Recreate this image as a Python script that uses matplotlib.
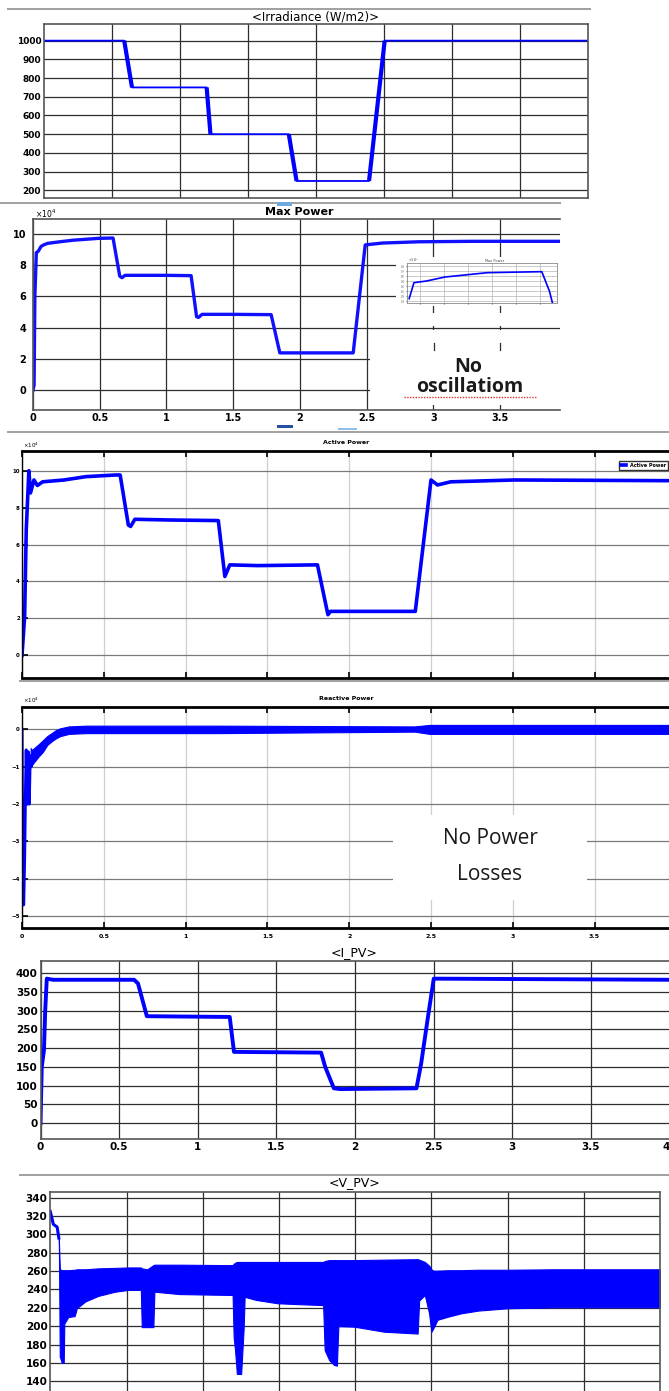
import numpy as np
import matplotlib
matplotlib.use('Agg')
import matplotlib.pyplot as plt
from matplotlib.patches import Rectangle
from matplotlib.lines import Line2D

W, H = 669, 1391
BLUE = '#0000ff'

# irradiance profile (W/m2)
t_irr = [0, 0.59, 0.647, 1.196, 1.224, 1.80, 1.857, 2.39, 2.505, 4.0]
g_irr = [1000, 1000, 750, 750, 500, 500, 250, 250, 1000, 1000]

# max power (x1e4)
t_pmax = [0, 0.008, 0.014, 0.025, 0.04, 0.06, 0.08, 0.11, 0.2, 0.3, 0.49, 0.6, 0.65, 0.667,
          0.69, 1.0, 1.185, 1.226, 1.24, 1.267, 1.5, 1.785, 1.85, 2.1, 2.4, 2.49, 2.62,
          2.89, 3.3, 3.95]
p_max = [0, 0.3, 6.0, 8.8, 8.9, 9.2, 9.3, 9.4, 9.5, 9.6, 9.72, 9.74, 7.3, 7.2,
         7.35, 7.35, 7.33, 4.7, 4.65, 4.85, 4.85, 4.83, 2.38, 2.38, 2.38, 9.3, 9.42,
         9.5, 9.53, 9.53]

# inset (zoom of max power start)
t_ins = [0, 0.022, 0.08, 0.165, 0.36, 0.61, 0.645, 0.66]
p_ins = [8.83, 9.31, 9.36, 9.48, 9.61, 9.64, 9.06, 8.68]

# active power (x1e4)
t_act = [0, 0.016, 0.026, 0.042, 0.052, 0.073, 0.094, 0.126, 0.257, 0.39, 0.572, 0.6,
         0.65, 0.664, 0.69, 0.913, 1.2, 1.24, 1.27, 1.44, 1.806, 1.87, 1.885, 2.12,
         2.404, 2.5, 2.54, 2.62, 3.01, 4.0]
p_act = [0, 2.1, 6.8, 10.0, 8.8, 9.5, 9.2, 9.4, 9.5, 9.68, 9.77, 9.77,
         7.06, 6.98, 7.37, 7.33, 7.3, 4.27, 4.9, 4.86, 4.9, 2.2, 2.38, 2.38,
         2.38, 9.5, 9.23, 9.4, 9.5, 9.46]

# reactive power (x1e4): start transient and steady band
t_q0 = [0, 0.005, 0.01, 0.016, 0.02, 0.026, 0.032, 0.038, 0.044, 0.05, 0.056, 0.061]
q0 = [0, -4.7, -4.7, -3.4, -2.0, -0.55, -2.0, -0.6, -2.0, -0.7, -1.0, -0.8]
t_qb = [0.053, 0.061, 0.101, 0.128, 0.154, 0.181, 0.207, 0.234, 0.287, 0.394, 1.2, 2.4, 2.49, 4.0]
q_hi = [-0.5, -0.55, -0.4, -0.29, -0.18, -0.1, -0.02, 0.03, 0.08, 0.1, 0.1, 0.08, 0.12, 0.12]
q_lo = [-1.0, -0.95, -0.73, -0.6, -0.42, -0.32, -0.24, -0.18, -0.12, -0.1, -0.1, -0.06, -0.12, -0.12]

# PV current (A)
t_ipv = [0, 0.008, 0.022, 0.03, 0.04, 0.081, 0.595, 0.62, 0.676, 1.203, 1.23, 1.784,
         1.81, 1.865, 1.905, 2.39, 2.42, 2.46, 2.5, 4.0]
i_pv = [0, 150, 195, 301, 385, 382, 382, 372, 285, 283, 190, 188,
        150, 93, 91, 93, 159, 274, 385, 382]

# PV voltage (V): start line and ripple envelope
t_v0 = [0, 0.02, 0.045, 0.056]
v0 = [325, 311, 308, 296]
t_v = [0.056, 0.062, 0.076, 0.088, 0.092, 0.118, 0.16, 0.174, 0.23, 0.314, 0.426, 0.51,
       0.594, 0.600, 0.636, 0.676, 0.683, 0.846, 1.196, 1.203, 1.212, 1.224, 1.252,
       1.268, 1.275, 1.35, 1.49, 1.63, 1.79, 1.80, 1.83, 1.86, 1.88, 1.89, 1.994, 2.19,
       2.41, 2.42, 2.457, 2.485, 2.50, 2.513, 2.54, 2.61, 2.695, 2.807, 3.0, 3.31, 4.0]
v_hi = [296, 262, 261, 261, 261, 261, 261.5, 262, 262, 263, 263.5, 264,
        264, 263, 262, 266.5, 267, 267, 266.5, 268, 269, 270, 270,
        270, 270, 270, 270, 270, 270, 271, 272, 272, 272, 272, 272, 272.5,
        273, 272.5, 270, 266, 262, 260.5, 260.5, 261, 261, 261.5, 261.5, 262, 262]
v_lo = [296, 167, 160, 160, 203, 210, 211, 219.5, 227, 233, 237.6, 239.5,
        239.5, 199, 199, 199, 237.6, 235, 234, 188, 174, 148, 148,
        196, 232, 228.6, 225, 224, 223, 174, 163, 158, 157, 200, 199.5, 194,
        192, 228, 234, 214, 194, 197.7, 207, 210.4, 214, 217, 219.5, 220.6, 220.6]

half_ticks = ['0', '0.5', '1', '1.5', '2', '2.5', '3', '3.5', '4']

fig = plt.figure(figsize=(W / 100, H / 100), dpi=100, facecolor='white')


def px_axes(l, t, r, b, **kw):
    return fig.add_axes([l / W, 1 - b / H, (r - l) / W, (b - t) / H], **kw)


def hline(y, x0, x1, color='#a0a0a0', lw=1.4, **kw):
    fig.add_artist(Line2D([x0 / W, x1 / W], [1 - y / H, 1 - y / H], color=color, lw=lw, **kw))


def white_box(l, t, r, b, color='white', z=1):
    fig.add_artist(Rectangle((l / W, 1 - b / H), (r - l) / W, (b - t) / H,
                             facecolor=color, edgecolor='none', zorder=z))


def ftext(x, y, s, **kw):
    kw.setdefault('ha', 'center')
    kw.setdefault('va', 'center')
    fig.text(x / W, 1 - y / H, s, **kw)


def scope_style(ax, lab_size, grid_col='#2e2e2e'):
    ax.grid(True, color=grid_col, lw=0.9)
    ax.set_axisbelow(True)
    ax.tick_params(length=0, labelsize=lab_size, pad=2)
    for lab in ax.get_xticklabels() + ax.get_yticklabels():
        lab.set_fontweight('bold')
    for s in ax.spines.values():
        s.set_color('#555555')
        s.set_linewidth(1.2)


# ---- panel 1: irradiance
hline(9, 8, 590)
ax1 = px_axes(44, 24, 588, 198)
ax1.plot(t_irr, g_irr, color=BLUE, lw=1.3)
for i in (1, 3, 5, 7):
    ax1.plot(t_irr[i:i + 2], g_irr[i:i + 2], color=BLUE, lw=3.0, solid_capstyle='butt')
ax1.set_xlim(0, 4)
ax1.set_ylim(159, 1089)
ax1.set_xticks(np.arange(0.5, 4, 0.5))
ax1.set_xticklabels([])
ax1.set_yticks(range(200, 1001, 100))
scope_style(ax1, 6.5)
ftext(316, 17, '<Irradiance (W/m2)>', fontsize=8.5)

# ---- panel 2: max power
hline(203, 0, 560)
ax2 = px_axes(33, 219, 560, 410)
ax2.plot(t_pmax, p_max, color='#1010ff', lw=2.4)
ax2.set_xlim(0, 3.95)
ax2.set_ylim(-1.28, 10.96)
ax2.set_xticks(np.arange(0, 4, 0.5))
ax2.set_xticklabels(half_ticks[:8])
ax2.set_yticks(range(0, 11, 2))
scope_style(ax2, 7)
ax2.tick_params(axis='y', pad=5)
ax2.spines['right'].set_visible(False)
ftext(299, 212, 'Max Power', fontsize=8, fontweight='bold')
ftext(35, 214, r'$\times10^{4}$', fontsize=5.5, ha='left')

# inset picture with its white background
white_box(396, 257, 560, 306)
white_box(396, 313, 560, 326)
ins = px_axes(407, 263, 557, 303, zorder=3)
ins.plot(t_ins, p_ins, color=BLUE, lw=1.2)
ins.set_xlim(-0.01, 0.68)
ins.set_ylim(8.7, 9.9)
ins.set_xticks(np.arange(0.05, 0.68, 0.11))
ins.set_yticks(np.arange(8.75, 9.9, 0.15))
ins.set_xticklabels([])
ins.set_yticklabels(['%.1f' % v for v in np.arange(8.75, 9.9, 0.15)])
ins.tick_params(length=1, labelsize=1.8, pad=0.5, colors='#666666')
ins.grid(True, color='#b5b5b5', lw=0.5)
for s in ins.spines.values():
    s.set_color('#888888')
    s.set_linewidth(0.6)
ftext(495, 261, 'Max Power', fontsize=2.5, color='#444444', zorder=4)
ftext(408, 260, r'$\times10^{4}$', fontsize=2.5, ha='left', color='#444444', zorder=4)

# note box
white_box(370, 343, 560, 405)
white_box(370, 330, 560, 343)
ftext(468, 367, 'No', fontsize=14, fontweight='bold', family='Open Sans', color='#1a1a1a', zorder=3)
ftext(470, 387, 'oscillatiom', fontsize=14, fontweight='bold', family='Open Sans', color='#1a1a1a', zorder=3)
hline(397, 404, 536, color='#e03030', lw=1.0, ls=(0, (1, 1)), zorder=3)
# short grid stubs left visible between the boxes
for xs in (434, 500):
    fig.add_artist(Line2D([xs / W, xs / W], [1 - 350 / H, 1 - 343 / H], color='#2e2e2e', lw=0.9, zorder=2))

# small blue marks from the original capture
white_box(277, 202, 292, 206, color='#6fa8dc', z=3)
white_box(277, 425, 293, 428, color='#2a4fa0', z=3)
white_box(338, 428, 357, 430, color='#8fc0ea', z=3)


def matlab_style(ax):
    ax.xaxis.grid(True, color='#cfcfcf', lw=0.9)
    ax.yaxis.grid(True, color='#7a7a7a', lw=0.9)
    ax.set_axisbelow(True)
    ax.tick_params(direction='in', top=True, length=4, width=1.2, color='black',
                   labelsize=4, pad=1.5)
    for lab in ax.get_xticklabels() + ax.get_yticklabels():
        lab.set_fontweight('bold')
    ax.spines['right'].set_visible(False)
    ax.spines['top'].set_linewidth(2.0)
    ax.spines['bottom'].set_linewidth(2.0)
    ax.spines['left'].set_linewidth(1.0)


# ---- panel 3: active power
hline(432, 8, 669)
ax3 = px_axes(22, 451, 680, 678)
ax3.plot(t_act, p_act, color=BLUE, lw=2.6, label='Active Power')
ax3.set_xlim(0, (680 - 22) / 163.6)
ax3.set_ylim(-1.23, 11.07)
ax3.set_xticks(np.arange(0, 4.01, 0.5))
ax3.set_xticklabels([])
ax3.set_yticks(range(0, 11, 2))
matlab_style(ax3)
leg = ax3.legend(loc='upper right', bbox_to_anchor=(0.985, 0.968), fontsize=3.5,
                 handlelength=1.0, borderpad=0.4, frameon=True, fancybox=False)
leg.get_frame().set_edgecolor('black')
leg.get_frame().set_linewidth(1.0)
for t in leg.get_texts():
    t.set_fontweight('bold')
ftext(346, 442, 'Active Power', fontsize=4.5, fontweight='bold')
ftext(23, 445, r'$\times10^{4}$', fontsize=4, ha='left')

# ---- panel 4: reactive power
hline(681, 20, 669)
ax4 = px_axes(22, 707, 680, 928)
ax4.fill_between(t_qb, q_lo, q_hi, color=BLUE, lw=0.8, edgecolor=BLUE)
ax4.plot(t_q0, q0, color=BLUE, lw=2.2)
ax4.set_xlim(0, (680 - 22) / 163.6)
ax4.set_ylim(-5.32, 0.6)
ax4.set_xticks(np.arange(0, 4.01, 0.5))
ax4.set_xticklabels(half_ticks[:8] + [''])
ax4.set_yticks(range(-5, 1))
matlab_style(ax4)
ax4.tick_params(axis='x', labelsize=4.5, pad=4)
ftext(346, 698, 'Reactive Power', fontsize=4.5, fontweight='bold')
ftext(23, 700, r'$\times10^{4}$', fontsize=4, ha='left')
white_box(393, 815, 587, 900)
ftext(490, 839, 'No Power', fontsize=15, family='Open Sans', color='#1a1a1a', zorder=3)
ftext(490, 874, 'Losses', fontsize=15, family='Open Sans', color='#1a1a1a', zorder=3)

# ---- panel 5: PV current
ax5 = px_axes(40.5, 961, 680, 1139)
ax5.plot(t_ipv, i_pv, color=BLUE, lw=2.8)
ax5.set_xlim(0, (680 - 40.5) / 157.3)
ax5.set_ylim(-42, 432)
ax5.set_xticks(np.arange(0, 4.01, 0.5))
ax5.set_xticklabels(half_ticks)
ax5.set_yticks(range(0, 401, 50))
scope_style(ax5, 7.5)
ax5.get_xticklabels()[-1].set_horizontalalignment('right')
ax5.spines['right'].set_visible(False)
ftext(354, 953, '<I_PV>', fontsize=9)

# ---- panel 6: PV voltage
hline(1175, 20, 669)
ax6 = px_axes(50.3, 1191.7, 660, 1400)
ax6.fill_between(t_v, v_lo, v_hi, color=BLUE, lw=0.8, edgecolor=BLUE)
ax6.plot(t_v0, v0, color=BLUE, lw=2.2)
ax6.set_xlim(0, 4)
ax6.set_ylim(340 - (1400 - 1197.7) * 20 / 18.36, 346.5)
ax6.set_xticks(np.arange(0.5, 4, 0.5))
ax6.set_xticklabels([])
ax6.set_yticks(range(140, 341, 20))
scope_style(ax6, 7.5)
ftext(354, 1183, '<V_PV>', fontsize=9)

fig.savefig('out.png', dpi=100, facecolor='white')
